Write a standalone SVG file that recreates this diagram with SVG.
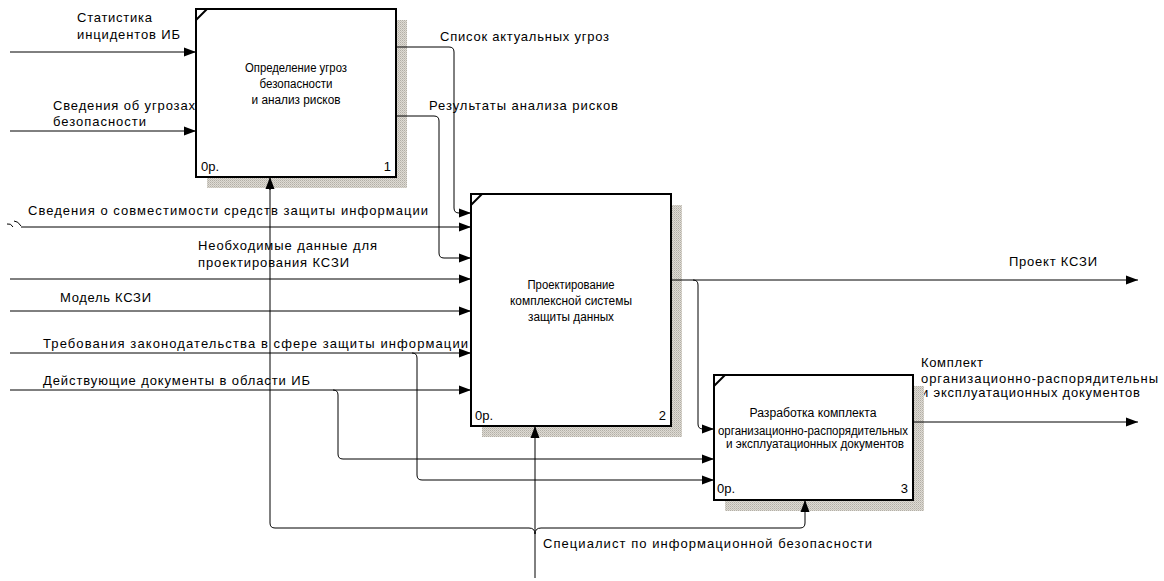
<svg xmlns="http://www.w3.org/2000/svg" width="1164" height="581" viewBox="0 0 1164 581">
<style>
.lbl{font-family:"Liberation Sans",Arial,sans-serif;font-size:13px;fill:#000}
.bt{font-family:"Liberation Sans",Arial,sans-serif;font-size:12px;fill:#000;text-anchor:middle}
.num{font-family:"Liberation Sans",Arial,sans-serif;font-size:13px;fill:#000}
.box{fill:#fff;stroke:#000;stroke-width:2}
.shadow{fill:url(#hatch)}
.ln{fill:none;stroke:#000;stroke-width:1}
.notch{stroke:#000;stroke-width:2}
.arr{marker-end:url(#ah)}
</style>
<defs>
<pattern id="hatch" width="2" height="2" patternUnits="userSpaceOnUse">
<rect width="2" height="2" fill="#dedbd4"/>
<rect width="1" height="1" fill="#b2aea6"/>
<rect x="1" y="1" width="1" height="1" fill="#c6c2ba"/>
</pattern>
<marker id="ah" markerWidth="12" markerHeight="10" refX="12" refY="5" orient="auto" markerUnits="userSpaceOnUse">
<path d="M0,0.5 L12,5 L0,9.5 Z" fill="#000"/>
</marker>
</defs>
<rect width="1164" height="581" fill="#fff"/>

<g id="labels">
<text class="lbl" x="77" y="22" textLength="75" lengthAdjust="spacing">Статистика</text>
<text class="lbl" x="77" y="39" textLength="103" lengthAdjust="spacing">инцидентов ИБ</text>
<text class="lbl" x="53" y="110" textLength="142" lengthAdjust="spacing">Сведения об угрозах</text>
<text class="lbl" x="53" y="126" textLength="93" lengthAdjust="spacing">безопасности</text>
<text class="lbl" x="440" y="41" textLength="169" lengthAdjust="spacing">Список актуальных угроз</text>
<text class="lbl" x="429" y="110" textLength="189" lengthAdjust="spacing">Результаты анализа рисков</text>
<text class="lbl" x="28" y="215" textLength="400" lengthAdjust="spacing">Сведения о совместимости средств защиты информации</text>
<text class="lbl" x="198" y="250" textLength="179" lengthAdjust="spacing">Необходимые данные для</text>
<text class="lbl" x="198" y="267" textLength="151" lengthAdjust="spacing">проектирования КСЗИ</text>
<text class="lbl" x="60" y="302" textLength="91" lengthAdjust="spacing">Модель КСЗИ</text>
<text class="lbl" x="43" y="348" textLength="425" lengthAdjust="spacing">Требования законодательства в сфере защиты информации</text>
<text class="lbl" x="43" y="385" textLength="267" lengthAdjust="spacing">Действующие документы в области ИБ</text>
<text class="lbl" x="1009" y="266" textLength="88" lengthAdjust="spacing">Проект КСЗИ</text>
<text class="lbl" x="921" y="367" textLength="62" lengthAdjust="spacing">Комплект</text>
<text class="lbl" x="921" y="383" textLength="237" lengthAdjust="spacing">организационно-распорядительны</text>
<text class="lbl" x="921" y="397" textLength="219" lengthAdjust="spacing">и эксплуатационных документов</text>
<text class="lbl" x="543" y="548" textLength="329" lengthAdjust="spacing">Специалист по информационной безопасности</text>
</g>

<g id="node1">
<rect class="shadow" x="207" y="20" width="200" height="168"/>
<rect class="box" x="196" y="9" width="200" height="168"/>
<line class="notch" x1="196" y1="20" x2="207" y2="9"/>
<text class="bt" x="296" y="72" textLength="102" lengthAdjust="spacingAndGlyphs">Определение угроз</text>
<text class="bt" x="296" y="88" textLength="73" lengthAdjust="spacingAndGlyphs">безопасности</text>
<text class="bt" x="296" y="104" textLength="89" lengthAdjust="spacingAndGlyphs">и анализ рисков</text>
<text class="num" x="201" y="171">0р.</text>
<text class="num" x="391" y="171" text-anchor="end">1</text>
</g>

<g id="node2">
<rect class="shadow" x="482" y="205" width="200" height="232"/>
<rect class="box" x="471" y="194" width="200" height="232"/>
<line class="notch" x1="471" y1="205" x2="482" y2="194"/>
<text class="bt" x="571" y="289" textLength="87" lengthAdjust="spacingAndGlyphs">Проектирование</text>
<text class="bt" x="571" y="305" textLength="122" lengthAdjust="spacingAndGlyphs">комплексной системы</text>
<text class="bt" x="571" y="321" textLength="86" lengthAdjust="spacingAndGlyphs">защиты данных</text>
<text class="num" x="475" y="420">0р.</text>
<text class="num" x="666" y="420" text-anchor="end">2</text>
</g>

<g id="node3">
<rect class="shadow" x="725" y="386" width="199" height="125"/>
<rect class="box" x="714" y="375" width="199" height="125"/>
<line class="notch" x1="714" y1="386" x2="725" y2="375"/>
<text class="bt" x="813" y="417" textLength="127" lengthAdjust="spacingAndGlyphs">Разработка комплекта</text>
<text class="bt" x="813" y="435" textLength="190" lengthAdjust="spacingAndGlyphs">организационно-распорядительных</text>
<text class="bt" x="815" y="448" textLength="178" lengthAdjust="spacingAndGlyphs">и эксплуатационных документов</text>
<text class="num" x="717" y="493">0р.</text>
<text class="num" x="908" y="493" text-anchor="end">3</text>
</g>

<g id="connectors">
<path class="ln arr" d="M10,52 H196"/>
<path class="ln arr" d="M10,131 H196"/>
<path class="ln arr" d="M396,47 H449 Q454,47 454,52 V208 Q454,213 459,213 H471"/>
<path class="ln arr" d="M396,116 H434 Q439,116 439,121 V253 Q439,258 444,258 H471"/>
<path class="ln" d="M7,224 Q11,223 13,227 M14,221 Q18,221 21,226"/>
<path class="ln arr" d="M21,227 H471"/>
<path class="ln arr" d="M10,279 H471"/>
<path class="ln arr" d="M10,311 H471"/>
<path class="ln arr" d="M10,353 H471"/>
<path class="ln arr" d="M412,353 Q417,353 417,358 V475 Q417,480 422,480 H714"/>
<path class="ln arr" d="M10,390 H471"/>
<path class="ln arr" d="M333,390 Q338,390 338,395 V454 Q338,459 343,459 H714"/>
<path class="ln arr" d="M671,280 H1138"/>
<path class="ln arr" d="M693,280 Q698,280 698,285 V424 Q698,429 703,429 H714"/>
<path class="ln arr" d="M913,422 H1138"/>
<path class="ln arr" d="M535,578 V426"/>
<path class="ln" d="M535,534 Q535,528 529,528 H275 Q270,528 270,523 V189"/>
<path class="ln arr" d="M270,190 V177"/>
<path class="ln" d="M535,534 Q535,528 541,528 H800 Q805,528 805,523 V510"/>
<path class="ln arr" d="M805,511 V500"/>
</g>
</svg>
